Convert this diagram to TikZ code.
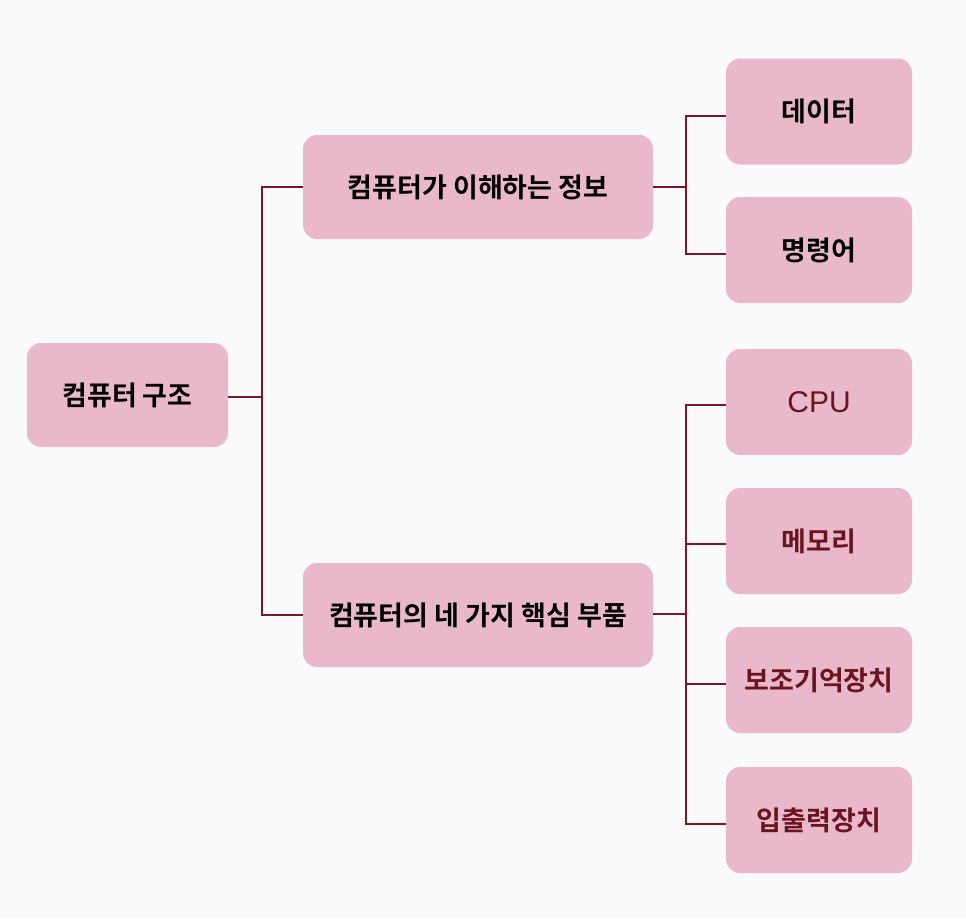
\documentclass[tikz,border=0pt]{standalone}
\usepackage{fontspec}
\newfontfamily\kr{Noto Sans CJK KR Bold}
\newfontfamily\lat{Liberation Sans}
\definecolor{boxfill}{HTML}{E9B9CB}
\definecolor{linecol}{HTML}{7E1628}
\definecolor{redtext}{HTML}{6A1420}
\definecolor{bg}{HTML}{FBFAFB}
\begin{document}
\begin{tikzpicture}[x=1pt,y=-1pt,
  box/.style={fill=boxfill, rounded corners=14pt, inner sep=0pt, font=\kr\fontsize{27}{30}\selectfont},
  rootbox/.style={box, minimum width=201pt, minimum height=104pt},
  midbox/.style={box, minimum width=350pt, minimum height=104pt},
  leafbox/.style={box, minimum width=186pt, minimum height=106pt},
  conn/.style={draw=linecol, line width=2.2pt}]
\fill[bg] (0,0) rectangle (966,918);
\useasboundingbox (0,0) rectangle (966,918);
\node[rootbox] (root) at (127.5,395) {컴퓨터 구조};
\node[midbox] (info) at (478,187) {컴퓨터가 이해하는 정보};
\node[midbox] (parts) at (478,615) {컴퓨터의 네 가지 핵심 부품};
\node[leafbox] (data) at (819,111.5) {데이터};
\node[leafbox] (inst) at (819,250) {명령어};
\node[leafbox, text=redtext, font=\lat\fontsize{30}{32}\selectfont] (cpu) at (819,402) {CPU};
\node[leafbox, text=redtext] (mem) at (819,541) {메모리};
\node[leafbox, text=redtext] (aux) at (819,680) {보조기억장치};
\node[leafbox, text=redtext] (io) at (819,820) {입출력장치};
\coordinate (b1) at (262,397);
\coordinate (b2) at (686,187);
\coordinate (b3) at (686,614);
\draw[conn] (root.east |- b1) -- (b1);
\draw[conn] (info.west) -| (b1 |- info.west) -- (b1 |- parts.west) -- (parts.west);
\draw[conn] (info.east) -- (b2);
\draw[conn] (data.west |- 0,116) -| (b2 |- 0,116) -- (b2 |- 0,254) -- (inst.west |- 0,254);
\draw[conn] (parts.east |- b3) -- (b3);
\draw[conn] (cpu.west |- 0,405) -| (b3 |- 0,405) -- (b3 |- 0,824) -- (io.west |- 0,824);
\draw[conn] (b3 |- 0,544) -- (mem.west |- 0,544);
\draw[conn] (b3 |- 0,684) -- (aux.west |- 0,684);
\end{tikzpicture}
\end{document}
